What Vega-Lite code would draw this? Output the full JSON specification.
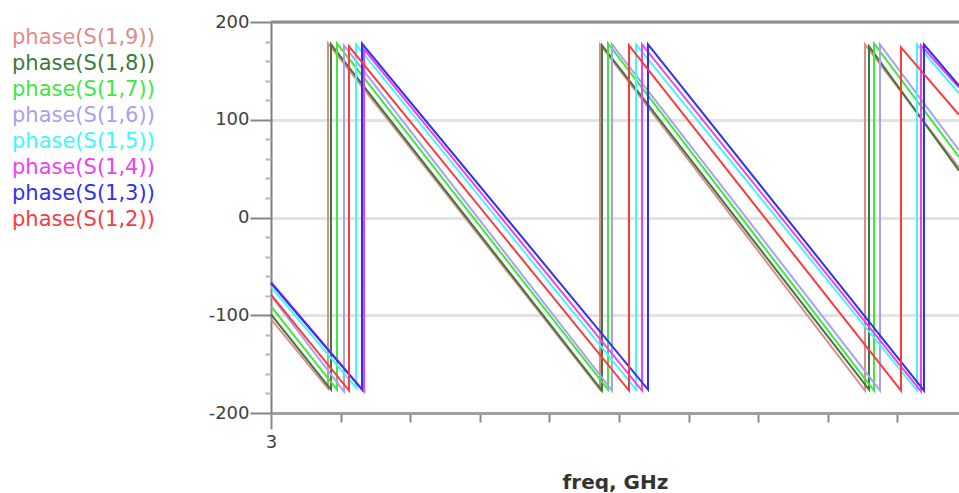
{
  "$schema": "https://vega.github.io/schema/vega-lite/v6.json",
  "padding": {"left": 12, "top": 13, "right": 0, "bottom": 0},
  "bounds": "flush",
  "spacing": 0,
  "background": "white",
  "config": {"view": {"stroke": null}, "font": "DejaVu Sans"},
  "datasets": {
    "legend": [
      {"label": "phase(S(1,9))"},
      {"label": "phase(S(1,8))"},
      {"label": "phase(S(1,7))"},
      {"label": "phase(S(1,6))"},
      {"label": "phase(S(1,5))"},
      {"label": "phase(S(1,4))"},
      {"label": "phase(S(1,3))"},
      {"label": "phase(S(1,2))"}
    ],
    "lines": [
      {"s": "S19", "i": 0, "f": 3, "p": -104},
      {"s": "S19", "i": 1, "f": 3.4095, "p": -175},
      {"s": "S19", "i": 2, "f": 3.4095, "p": 178},
      {"s": "S19", "i": 3, "f": 5.3635, "p": -176},
      {"s": "S19", "i": 4, "f": 5.3635, "p": 177},
      {"s": "S19", "i": 5, "f": 7.2672, "p": -177},
      {"s": "S19", "i": 6, "f": 7.2672, "p": 177},
      {"s": "S19", "i": 7, "f": 7.9425, "p": 51},
      {"s": "S18", "i": 0, "f": 3, "p": -99},
      {"s": "S18", "i": 1, "f": 3.431, "p": -176},
      {"s": "S18", "i": 2, "f": 3.431, "p": 177},
      {"s": "S18", "i": 3, "f": 5.3779, "p": -177},
      {"s": "S18", "i": 4, "f": 5.3779, "p": 176},
      {"s": "S18", "i": 5, "f": 7.296, "p": -176},
      {"s": "S18", "i": 6, "f": 7.296, "p": 175},
      {"s": "S18", "i": 7, "f": 7.9425, "p": 48},
      {"s": "S17", "i": 0, "f": 3, "p": -91},
      {"s": "S17", "i": 1, "f": 3.4741, "p": -176},
      {"s": "S17", "i": 2, "f": 3.4741, "p": 178},
      {"s": "S17", "i": 3, "f": 5.421, "p": -176},
      {"s": "S17", "i": 4, "f": 5.421, "p": 178},
      {"s": "S17", "i": 5, "f": 7.3319, "p": -177},
      {"s": "S17", "i": 6, "f": 7.3319, "p": 178},
      {"s": "S17", "i": 7, "f": 7.9425, "p": 62},
      {"s": "S16", "i": 0, "f": 3, "p": -80},
      {"s": "S16", "i": 1, "f": 3.5244, "p": -178},
      {"s": "S16", "i": 2, "f": 3.5244, "p": 176},
      {"s": "S16", "i": 3, "f": 5.4497, "p": -177},
      {"s": "S16", "i": 4, "f": 5.4497, "p": 177},
      {"s": "S16", "i": 5, "f": 7.375, "p": -177},
      {"s": "S16", "i": 6, "f": 7.375, "p": 177},
      {"s": "S16", "i": 7, "f": 7.9425, "p": 69},
      {"s": "S15", "i": 0, "f": 3, "p": -71},
      {"s": "S15", "i": 1, "f": 3.6106, "p": -174},
      {"s": "S15", "i": 2, "f": 3.6106, "p": 177},
      {"s": "S15", "i": 3, "f": 5.6221, "p": -176},
      {"s": "S15", "i": 4, "f": 5.6221, "p": 177},
      {"s": "S15", "i": 5, "f": 7.6408, "p": -177},
      {"s": "S15", "i": 6, "f": 7.6408, "p": 177},
      {"s": "S15", "i": 7, "f": 7.9425, "p": 127},
      {"s": "S14", "i": 0, "f": 3, "p": -66},
      {"s": "S14", "i": 1, "f": 3.6681, "p": -178},
      {"s": "S14", "i": 2, "f": 3.6681, "p": 172},
      {"s": "S14", "i": 3, "f": 5.6652, "p": -177},
      {"s": "S14", "i": 4, "f": 5.6652, "p": 177},
      {"s": "S14", "i": 5, "f": 7.6695, "p": -178},
      {"s": "S14", "i": 6, "f": 7.6695, "p": 176},
      {"s": "S14", "i": 7, "f": 7.9425, "p": 133},
      {"s": "S13", "i": 0, "f": 3, "p": -67},
      {"s": "S13", "i": 1, "f": 3.6537, "p": -176},
      {"s": "S13", "i": 2, "f": 3.6537, "p": 178},
      {"s": "S13", "i": 3, "f": 5.7083, "p": -176},
      {"s": "S13", "i": 4, "f": 5.7083, "p": 177},
      {"s": "S13", "i": 5, "f": 7.6911, "p": -177},
      {"s": "S13", "i": 6, "f": 7.6911, "p": 177},
      {"s": "S13", "i": 7, "f": 7.9425, "p": 135},
      {"s": "S12", "i": 0, "f": 3, "p": -79},
      {"s": "S12", "i": 1, "f": 3.5603, "p": -177},
      {"s": "S12", "i": 2, "f": 3.5603, "p": 175},
      {"s": "S12", "i": 3, "f": 5.5718, "p": -177},
      {"s": "S12", "i": 4, "f": 5.5718, "p": 176},
      {"s": "S12", "i": 5, "f": 7.5259, "p": -177},
      {"s": "S12", "i": 6, "f": 7.5259, "p": 174},
      {"s": "S12", "i": 7, "f": 7.9425, "p": 105}
    ]
  },
  "hconcat": [
    {
      "width": 259,
      "height": 214,
      "data": {"name": "legend"},
      "mark": {"type": "text", "align": "left", "baseline": "middle", "fontSize": 21},
      "encoding": {
        "x": {"datum": 0, "type": "quantitative", "scale": {"domain": [0, 1]}, "axis": null},
        "y": {"field": "label", "type": "nominal", "sort": null, "scale": {"type": "point", "padding": 0.638}, "axis": null},
        "text": {"field": "label"},
        "color": {
          "field": "label", "type": "nominal", "sort": null,
          "scale": {
            "domain": ["phase(S(1,9))", "phase(S(1,8))", "phase(S(1,7))", "phase(S(1,6))", "phase(S(1,5))", "phase(S(1,4))", "phase(S(1,3))", "phase(S(1,2))"],
            "range": ["#e08a8a", "#3a7a3a", "#3ee83e", "#a8a0f0", "#40f8f8", "#f040f0", "#3030f0", "#f83c3c"]
          },
          "legend": null
        }
      }
    },
    {
      "width": 688,
      "height": 391,
      "resolve": {"axis": {"y": "independent"}},
      "layer": [
        {
          "data": {"name": "lines"},
          "mark": {"type": "line", "strokeWidth": 2},
          "encoding": {
            "x": {
              "field": "f", "type": "quantitative", "title": "freq, GHz",
              "scale": {"domain": [3, 7.9425], "nice": false, "zero": false},
              "axis": {
                "values": [3, 3.5, 4, 4.5, 5, 5.5, 6, 6.5, 7, 7.5],
                "labelExpr": "datum.value === 3 ? '3' : ''",
                "tickSize": {"condition": {"test": "datum.value === 3", "value": 16}, "value": 9},
                "tickColor": "#8a8a8a", "tickWidth": 2,
                "domainColor": "#a0a0a0", "domainWidth": 3,
                "grid": false,
                "labelFontSize": 18, "labelColor": "#404040", "labelPadding": 4,
                "labelFlush": false, "labelOverlap": false,
                "titleFontSize": 20, "titleFontWeight": "bold", "titleColor": "#333333", "titlePadding": 21
              }
            },
            "y": {
              "field": "p", "type": "quantitative", "title": null,
              "scale": {"domain": [-200, 200], "nice": false},
              "axis": {
                "orient": "left",
                "values": [-200, -100, 0, 100, 200],
                "labelExpr": "'' + datum.value",
                "tickSize": 21,
                "tickColor": "#858585",
                "tickWidth": 2,
                "domainColor": "#808080", "domainWidth": 2,
                "grid": true, "gridColor": "#e2e2e2", "gridWidth": 3,
                "labelFontSize": 18, "labelColor": "#404040", "labelPadding": 1,
                "labelOverlap": false
              }
            },
            "color": {
              "field": "s", "type": "nominal",
              "scale": {
                "domain": ["S19", "S18", "S17", "S16", "S15", "S14", "S13", "S12"],
                "range": ["#e8a4a4", "#9a7a58", "#55e855", "#b4aaf5", "#5cf5f5", "#f560f5", "#5a5af5", "#f86060"]
              },
              "legend": null
            },
            "order": {"field": "i", "type": "quantitative"}
          }
        },
        {
          "data": {"values": [{"p": 200}]},
          "mark": {"type": "rule", "color": "#8c8c8c", "strokeWidth": 3},
          "encoding": {
            "y": {
              "field": "p", "type": "quantitative", "title": null,
              "axis": {
                "orient": "left",
                "values": [-180, -160, -140, -120, -80, -60, -40, -20, 20, 40, 60, 80, 120, 140, 160, 180],
                "labels": false,
                "domain": false,
                "grid": false,
                "tickSize": 6,
                "tickWidth": 2,
                "tickColor": "#b5b5b5"
              }
            }
          }
        }
      ]
    }
  ]
}
